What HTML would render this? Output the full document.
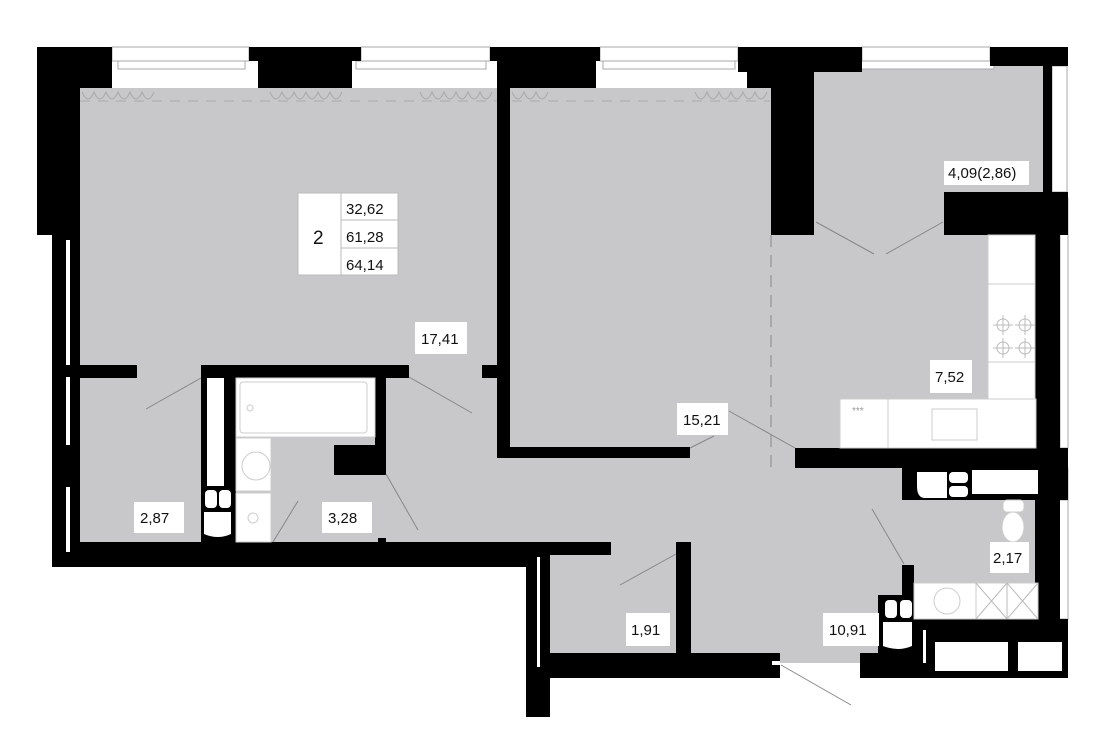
<!DOCTYPE html>
<html><head><meta charset="utf-8"><style>
html,body{margin:0;padding:0;background:#fff;width:1100px;height:756px;overflow:hidden}
svg{display:block}
text{font-family:"Liberation Sans Narrow","Liberation Sans",sans-serif;fill:#111}
</style></head><body>
<svg width="1100" height="756" viewBox="0 0 1100 756" xmlns="http://www.w3.org/2000/svg">
<g fill="#c8c7c9">
<rect x="76" y="88" width="421" height="454"/>
<rect x="510" y="88" width="262" height="360"/>
<rect x="772" y="235" width="216" height="213"/>
<rect x="813" y="66" width="231" height="127"/>
<rect x="813" y="192" width="132" height="44"/>
<rect x="386" y="447" width="518" height="95"/>
<rect x="550" y="542" width="354" height="121"/>
<rect x="900" y="500" width="140" height="90"/>
</g>
<g stroke="#aaa" stroke-width="1" fill="none">
<line x1="80" y1="101" x2="770" y2="101" stroke-dasharray="10,8"/>
<path d="M82 92 q6 14 12 0 q6 14 12 0 q6 14 12 0 q6 14 12 0 q6 14 12 0 q6 14 12 0 M270 92 q6 14 12 0 q6 14 12 0 q6 14 12 0 q6 14 12 0 q6 14 12 0 q6 14 12 0 M420 92 q6 14 12 0 q6 14 12 0 q6 14 12 0 q6 14 12 0 q6 14 12 0 q6 14 12 0 M512 92 q6 14 12 0 q6 14 12 0 q6 14 12 0 M695 92 q6 14 12 0 q6 14 12 0 q6 14 12 0 q6 14 12 0 q6 14 12 0 q6 14 12 0"/>
<line x1="771" y1="235" x2="771" y2="470" stroke="#888" stroke-dasharray="12,8"/>
</g>
<g fill="#fff" stroke="#aaa" stroke-width="1">
<rect x="112" y="47" width="137" height="14"/><rect x="118" y="61" width="127" height="8"/>
<rect x="361" y="47" width="129" height="14"/><rect x="356" y="61" width="130" height="8"/>
<rect x="600" y="47" width="138" height="14"/><rect x="603" y="61" width="132" height="8"/>
<rect x="862" y="47" width="128" height="14"/><rect x="852" y="61" width="142" height="8"/>
<rect x="1052" y="66" width="15" height="126"/>
<rect x="1060" y="198" width="8" height="250"/>
<rect x="1056" y="468" width="12" height="32"/>
<rect x="1056" y="500" width="12" height="119"/>
</g>
<g fill="#000">
<rect x="37" y="47" width="75" height="41"/>
<rect x="37" y="70" width="43" height="165"/>
<rect x="52" y="235" width="28" height="332"/>
<rect x="52" y="542" width="488" height="25"/>
<rect x="520" y="542" width="91" height="13"/>
<rect x="249" y="47" width="112" height="14"/><rect x="258" y="61" width="94" height="27"/>
<rect x="490" y="47" width="110" height="14"/><rect x="497" y="61" width="99" height="27"/>
<rect x="738" y="47" width="124" height="25"/><rect x="747" y="72" width="67" height="16"/>
<rect x="771" y="88" width="43" height="147"/>
<rect x="990" y="47" width="78" height="19"/>
<rect x="1043" y="66" width="9" height="127"/>
<rect x="944" y="192" width="124" height="43"/>
<rect x="1035" y="198" width="25" height="452"/>
<rect x="80" y="365" width="57" height="13"/>
<rect x="201" y="365" width="208" height="13"/>
<rect x="201" y="378" width="35" height="164"/>
<rect x="375" y="378" width="11" height="97"/>
<rect x="334" y="445" width="52" height="30"/>
<rect x="482" y="365" width="15" height="13"/>
<rect x="497" y="88" width="13" height="370"/>
<rect x="497" y="447" width="193" height="11"/>
<rect x="795" y="448" width="273" height="20"/>
<rect x="902" y="468" width="166" height="32"/>
<rect x="526" y="555" width="24" height="162"/>
<rect x="550" y="653" width="230" height="25"/>
<rect x="676" y="542" width="15" height="111"/>
<rect x="902" y="565" width="12" height="30"/>
<rect x="878" y="595" width="36" height="58"/>
<rect x="878" y="619" width="190" height="34"/>
<rect x="860" y="653" width="208" height="25"/>
<rect x="378" y="538" width="8" height="6"/>
</g>
<g fill="#fff">
<rect x="66" y="240" width="4" height="125"/>
<rect x="66" y="377" width="4" height="68"/>
<rect x="66" y="487" width="4" height="65"/>
<rect x="537" y="557" width="3" height="110"/>
<rect x="207" y="378" width="17" height="108"/>
<rect x="923" y="630" width="3" height="33"/>
<rect x="935" y="642" width="73" height="29"/>
<rect x="1018" y="642" width="44" height="29"/>
<rect x="972" y="470" width="66" height="24"/>
<rect x="772" y="661" width="8" height="4"/>
<rect x="205" y="490" width="12" height="18" rx="4"/><rect x="219" y="490" width="12" height="18" rx="4"/>
<path d="M204 512 h27 v22 q-13 6 -27 0z"/>
<rect x="885" y="600" width="12" height="18" rx="4"/><rect x="900" y="600" width="12" height="18" rx="4"/>
<path d="M883 622 h29 v24 q-14 6 -29 0z"/>
<path d="M917 472 h30 v26 h-22 q-8 0 -8 -12z"/>
<rect x="949" y="472" width="19" height="11" rx="4"/><rect x="949" y="486" width="19" height="11" rx="4"/>
</g>
<g fill="#fff" stroke="#ccc" stroke-width="1">
<rect x="236" y="378" width="139" height="59"/>
<rect x="240" y="382" width="127" height="51" rx="3"/>
<rect x="236" y="438" width="35" height="53"/>
<rect x="236" y="493" width="35" height="49"/>
<circle cx="256" cy="466" r="14"/>
<circle cx="253" cy="518" r="5"/>
<circle cx="250" cy="408" r="3"/>
<rect x="988" y="235" width="47" height="164"/>
<rect x="988" y="284" width="47" height="78"/>
<rect x="840" y="399" width="196" height="49"/>
<rect x="840" y="399" width="48" height="49"/>
<rect x="932" y="409" width="45" height="31"/>
<rect x="914" y="583" width="124" height="36"/>
<rect x="976" y="583" width="62" height="36"/>
<circle cx="947" cy="601" r="13"/>
<ellipse cx="1013" cy="527" rx="11" ry="15"/>
<rect x="1003" y="500" width="21" height="12" rx="4"/>
</g>
<g stroke="#bbb" stroke-width="1" fill="none">
<line x1="976" y1="583" x2="1007" y2="619"/><line x1="1007" y1="583" x2="976" y2="619"/>
<line x1="1007" y1="583" x2="1038" y2="619"/><line x1="1038" y1="583" x2="1007" y2="619"/>
<line x1="1007" y1="583" x2="1007" y2="619"/>
<circle cx="1003" cy="325" r="6"/><circle cx="1025" cy="325" r="6"/>
<circle cx="1003" cy="348" r="6"/><circle cx="1025" cy="348" r="6"/>
<line x1="993" y1="325" x2="1013" y2="325"/><line x1="1003" y1="315" x2="1003" y2="335"/>
<line x1="1015" y1="325" x2="1035" y2="325"/><line x1="1025" y1="315" x2="1025" y2="335"/>
<line x1="993" y1="348" x2="1013" y2="348"/><line x1="1003" y1="338" x2="1003" y2="358"/>
<line x1="1015" y1="348" x2="1035" y2="348"/><line x1="1025" y1="338" x2="1025" y2="358"/>
</g>
<text x="852" y="414" font-size="10" style="fill:#999">***</text>
<g stroke="#888" stroke-width="1">
<line x1="146" y1="409" x2="201" y2="378"/>
<line x1="409" y1="377" x2="472" y2="413"/>
<line x1="386" y1="474" x2="418" y2="530"/>
<line x1="273" y1="542" x2="298" y2="501"/>
<line x1="729" y1="411" x2="795" y2="448"/>
<line x1="690" y1="448" x2="714" y2="436"/>
<line x1="816" y1="222" x2="874" y2="254"/>
<line x1="886" y1="254" x2="943" y2="222"/>
<line x1="872" y1="509" x2="904" y2="564"/>
<line x1="620" y1="585" x2="676" y2="554"/>
<line x1="781" y1="665" x2="851" y2="705"/>
</g>
<rect x="298" y="193" width="100" height="82" fill="#fff" stroke="#bbb"/>
<line x1="341" y1="193" x2="341" y2="275" stroke="#bbb"/>
<line x1="341" y1="220" x2="398" y2="220" stroke="#bbb"/>
<line x1="341" y1="248" x2="398" y2="248" stroke="#bbb"/>
<text x="313" y="244" font-size="19">2</text>
<text x="346" y="214" font-size="15">32,62</text>
<text x="346" y="242" font-size="15">61,28</text>
<text x="346" y="270" font-size="15">64,14</text>
<g font-size="15">
<rect x="415" y="322" width="52" height="32" fill="#fff"/><text x="421" y="344">17,41</text>
<rect x="134" y="502" width="50" height="31" fill="#fff"/><text x="140" y="523">2,87</text>
<rect x="322" y="502" width="50" height="31" fill="#fff"/><text x="328" y="523">3,28</text>
<rect x="677" y="403" width="51" height="32" fill="#fff"/><text x="683" y="425">15,21</text>
<rect x="930" y="360" width="42" height="33" fill="#fff"/><text x="935" y="382">7,52</text>
<rect x="944" y="161" width="85" height="24" fill="#fff"/><text x="948" y="178">4,09(2,86)</text>
<rect x="990" y="542" width="39" height="31" fill="#fff"/><text x="993" y="563">2,17</text>
<rect x="626" y="613" width="44" height="33" fill="#fff"/><text x="631" y="635">1,91</text>
<rect x="823" y="613" width="56" height="33" fill="#fff"/><text x="829" y="635">10,91</text>
</g>
</svg>
</body></html>
